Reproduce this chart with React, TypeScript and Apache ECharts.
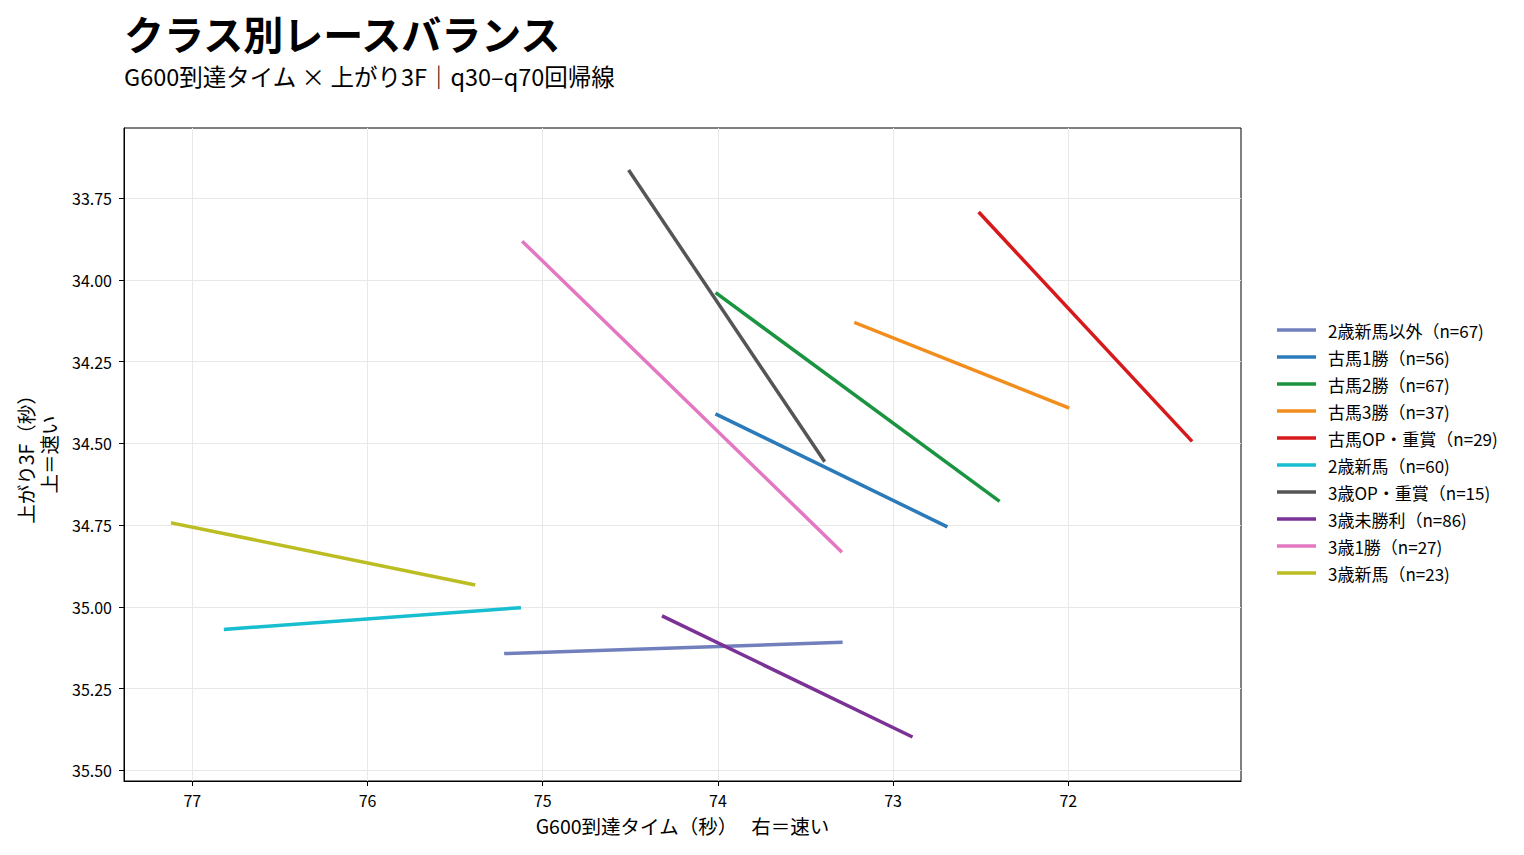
import React, { useEffect, useRef } from "react";
import * as echarts from "echarts";

const FONT = '"Noto Sans CJK JP", "Noto Sans", sans-serif';

const TITLE = "クラス別レースバランス";
const SUBTITLE = "G600到達タイム × 上がり3F｜q30–q70回帰線";
const X_NAME = "G600到達タイム（秒）　 右＝速い";
const Y_NAME = "上がり3F（秒）\n上＝速い";

const categories = [
  "2歳新馬以外",
  "古馬1勝",
  "古馬2勝",
  "古馬3勝",
  "古馬OP・重賞",
  "2歳新馬",
  "3歳OP・重賞",
  "3歳未勝利",
  "3歳1勝",
  "3歳新馬",
];
const counts = [67, 56, 67, 37, 29, 60, 15, 86, 27, 23];
const colors = [
  "#717fbc",
  "#2b7bba",
  "#1a9440",
  "#f28e1e",
  "#d7191c",
  "#17becf",
  "#555555",
  "#7b3294",
  "#e377c2",
  "#bcbd22",
];

// line start / end points (G600 time, last 3F)
const xStart = [75.21, 74.005, 74.005, 73.212, 72.505, 76.81, 74.504, 74.31, 75.11, 77.112];
const yStart = [35.143, 34.412, 34.042, 34.132, 33.796, 35.069, 33.668, 35.03, 33.885, 34.744];
const xEnd = [73.298, 72.699, 72.4, 72.003, 71.3, 75.134, 73.396, 72.898, 73.299, 75.395];
const yEnd = [35.109, 34.753, 34.674, 34.39, 34.49, 35.003, 34.552, 35.396, 34.829, 34.932];

const xTicks = [77, 76, 75, 74, 73, 72];
const yTicks = [33.75, 34.0, 34.25, 34.5, 34.75, 35.0, 35.25, 35.5];

export default function App() {
  const ref = useRef<HTMLDivElement>(null);

  useEffect(() => {
    if (!ref.current) return;
    const chart = echarts.init(ref.current, undefined, { renderer: "svg" });

    const series = categories.map((c, i) => ({
      name: `${c}（n=${counts[i]})`,
      type: "line",
      data: [
        [xStart[i], yStart[i]],
        [xEnd[i], yEnd[i]],
      ],
      showSymbol: false,
      symbol: "none",
      color: colors[i],
      lineStyle: { width: 3.5, color: colors[i], cap: "square" },
      emphasis: { disabled: true },
    }));

    chart.setOption({
      animation: false,
      textStyle: { fontFamily: FONT },
      title: [
        {
          text: TITLE,
          left: 124,
          top: 10,
          padding: 0,
          textStyle: { fontFamily: FONT, fontSize: 40, fontWeight: "bold", color: "#000", lineHeight: 46 },
        },
        {
          text: SUBTITLE,
          left: 124,
          top: 62,
          padding: 0,
          textStyle: { fontFamily: FONT, fontSize: 23.5, fontWeight: "normal", color: "#000", lineHeight: 28 },
        },
      ],
      legend: {
        orient: "vertical",
        left: 1277,
        top: 320,
        padding: 0,
        itemWidth: 39,
        itemHeight: 3.5,
        itemGap: 7,
        icon: "rect",
        data: series.map((s) => s.name),
        textStyle: { fontFamily: FONT, fontSize: 17, color: "#000", lineHeight: 20, padding: [0, 0, 0, 7] },
      },
      grid: {
        left: 124,
        top: 128,
        right: 283,
        bottom: 74,
        show: true,
        borderColor: "#000",
        borderWidth: 1,
        backgroundColor: "transparent",
      },
      xAxis: {
        type: "value",
        inverse: true,
        min: 71.014,
        max: 77.39,
        name: X_NAME,
        nameLocation: "middle",
        nameGap: 35,
        nameTextStyle: { fontFamily: FONT, fontSize: 19.5, color: "#000" },
        axisLine: { show: true, lineStyle: { color: "#000", width: 1 } },
        axisTick: { show: true, length: 5, lineStyle: { color: "#000" }, customValues: xTicks },
        axisLabel: {
          color: "#000",
          fontSize: 16,
          fontFamily: FONT,
          margin: 11,
          customValues: xTicks,
          formatter: (v: number) => String(Math.round(v)),
        },
        splitLine: { show: true, lineStyle: { color: "#e8e8e8", width: 1 } },
      },
      yAxis: {
        type: "value",
        inverse: true,
        min: 33.535,
        max: 35.533,
        name: Y_NAME,
        nameLocation: "middle",
        nameGap: 64,
        nameTextStyle: { fontFamily: FONT, fontSize: 19.5, color: "#000", lineHeight: 23 },
        axisLine: { show: true, lineStyle: { color: "#000", width: 1 } },
        axisTick: { show: true, length: 5, lineStyle: { color: "#000" }, customValues: yTicks },
        axisLabel: {
          color: "#000",
          fontSize: 16,
          fontFamily: FONT,
          margin: 12,
          customValues: yTicks,
          formatter: (v: number) => v.toFixed(2),
        },
        splitLine: { show: true, lineStyle: { color: "#e8e8e8", width: 1 } },
      },
      series,
    });

    return () => chart.dispose();
  }, []);

  return (
    <div
      ref={ref}
      style={{ position: "absolute", left: 0, top: 0, width: 1524, height: 855, background: "#fff" }}
    />
  );
}
